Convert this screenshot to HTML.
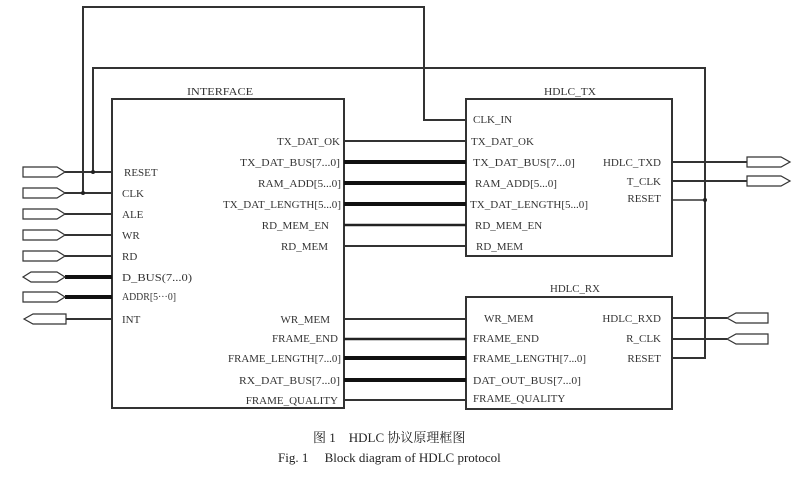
<!DOCTYPE html>
<html><head><meta charset="utf-8"><style>
html,body{margin:0;padding:0;background:#fff;width:802px;height:479px;overflow:hidden}
svg text{font-family:"Liberation Serif","Noto Serif CJK SC",serif;font-size:11px;fill:#333}
</style></head><body>
<svg width="802" height="479" viewBox="0 0 802 479" xmlns="http://www.w3.org/2000/svg">
<g fill="none" stroke="#333" stroke-width="2">
<!-- boxes -->
<rect x="112" y="99" width="232" height="309"/>
<rect x="466" y="99" width="206" height="157"/>
<rect x="466" y="297" width="206" height="112"/>
<!-- top wires -->
<polyline points="83,193 83,7 424,7 424,120 466,120"/>
<polyline points="93,172 93,68 705,68 705,358 672,358"/>
<line x1="672" y1="200" x2="705" y2="200" stroke-width="1.5"/>
<!-- left inputs -->
<line x1="65" y1="172" x2="112" y2="172"/>
<line x1="65" y1="193" x2="112" y2="193"/>
<line x1="65" y1="214" x2="112" y2="214"/>
<line x1="65" y1="235" x2="112" y2="235"/>
<line x1="65" y1="256" x2="112" y2="256"/>
<line x1="65" y1="277" x2="112" y2="277" stroke-width="4" stroke="#111"/>
<line x1="65" y1="297" x2="112" y2="297" stroke-width="4" stroke="#111"/>
<line x1="66" y1="319" x2="112" y2="319"/>
<!-- middle -->
<line x1="344" y1="141" x2="466" y2="141"/>
<line x1="344" y1="162" x2="466" y2="162" stroke-width="4" stroke="#111"/>
<line x1="344" y1="183" x2="466" y2="183" stroke-width="4" stroke="#111"/>
<line x1="344" y1="204" x2="466" y2="204" stroke-width="4" stroke="#111"/>
<line x1="344" y1="225" x2="466" y2="225" stroke-width="2.5" stroke="#222"/>
<line x1="344" y1="246" x2="466" y2="246"/>
<line x1="344" y1="319" x2="466" y2="319"/>
<line x1="344" y1="339" x2="466" y2="339" stroke-width="2.5" stroke="#222"/>
<line x1="344" y1="358" x2="466" y2="358" stroke-width="4" stroke="#111"/>
<line x1="344" y1="380" x2="466" y2="380" stroke-width="4" stroke="#111"/>
<line x1="344" y1="400" x2="466" y2="400"/>
<!-- right -->
<line x1="672" y1="162" x2="747" y2="162"/>
<line x1="672" y1="181" x2="747" y2="181"/>
<line x1="672" y1="318" x2="727" y2="318"/>
<line x1="672" y1="339" x2="727" y2="339"/>
</g>
<circle cx="93" cy="172" r="2" fill="#222"/>
<circle cx="83" cy="193" r="2" fill="#222"/>
<circle cx="705" cy="200" r="2" fill="#222"/>
<!-- port shapes -->
<g fill="#fff" stroke="#333" stroke-width="1.2">
<polygon points="23,167 57,167 65,172 57,177 23,177"/>
<polygon points="23,188 57,188 65,193 57,198 23,198"/>
<polygon points="23,209 57,209 65,214 57,219 23,219"/>
<polygon points="23,230 57,230 65,235 57,240 23,240"/>
<polygon points="23,251 57,251 65,256 57,261 23,261"/>
<polygon points="23,277 31,272 57,272 65,277 57,282 31,282"/>
<polygon points="23,292 57,292 65,297 57,302 23,302"/>
<polygon points="24,319 33,314 66,314 66,324 33,324"/>
<polygon points="747,157 781,157 790,162 781,167 747,167"/>
<polygon points="747,176 781,176 790,181 781,186 747,186"/>
<polygon points="727,318 736,313 768,313 768,323 736,323"/>
<polygon points="727,339 736,334 768,334 768,344 736,344"/>
</g>
<!-- titles -->
<text x="187" y="95" textLength="66" lengthAdjust="spacingAndGlyphs">INTERFACE</text>
<text x="544" y="95" textLength="52" lengthAdjust="spacingAndGlyphs">HDLC_TX</text>
<text x="550" y="292" textLength="50" lengthAdjust="spacingAndGlyphs">HDLC_RX</text>
<!-- interface left -->
<text x="124" y="176">RESET</text>
<text x="122" y="197">CLK</text>
<text x="122" y="218">ALE</text>
<text x="122" y="239">WR</text>
<text x="122" y="260">RD</text>
<text x="122" y="281" textLength="70" lengthAdjust="spacingAndGlyphs">D_BUS(7...0)</text>
<text x="122" y="300" textLength="54" lengthAdjust="spacingAndGlyphs">ADDR[5···0]</text>
<text x="122" y="323">INT</text>
<!-- interface right -->
<g text-anchor="end">
<text x="340" y="145">TX_DAT_OK</text>
<text x="340" y="166" textLength="100" lengthAdjust="spacingAndGlyphs">TX_DAT_BUS[7...0]</text>
<text x="341" y="187" textLength="83" lengthAdjust="spacingAndGlyphs">RAM_ADD[5...0]</text>
<text x="341" y="208" textLength="118" lengthAdjust="spacingAndGlyphs">TX_DAT_LENGTH[5...0]</text>
<text x="329" y="229">RD_MEM_EN</text>
<text x="328" y="250">RD_MEM</text>
<text x="330" y="323">WR_MEM</text>
<text x="338" y="342">FRAME_END</text>
<text x="341" y="362" textLength="113" lengthAdjust="spacingAndGlyphs">FRAME_LENGTH[7...0]</text>
<text x="340" y="384" textLength="101" lengthAdjust="spacingAndGlyphs">RX_DAT_BUS[7...0]</text>
<text x="338" y="404">FRAME_QUALITY</text>
<text x="661" y="166">HDLC_TXD</text>
<text x="661" y="185">T_CLK</text>
<text x="661" y="202">RESET</text>
<text x="661" y="322">HDLC_RXD</text>
<text x="661" y="342">R_CLK</text>
<text x="661" y="362">RESET</text>
</g>
<!-- TX left -->
<text x="473" y="123">CLK_IN</text>
<text x="471" y="145">TX_DAT_OK</text>
<text x="473" y="166" textLength="102" lengthAdjust="spacingAndGlyphs">TX_DAT_BUS[7...0]</text>
<text x="475" y="187" textLength="82" lengthAdjust="spacingAndGlyphs">RAM_ADD[5...0]</text>
<text x="470" y="208" textLength="118" lengthAdjust="spacingAndGlyphs">TX_DAT_LENGTH[5...0]</text>
<text x="475" y="229">RD_MEM_EN</text>
<text x="476" y="250">RD_MEM</text>
<!-- RX left -->
<text x="484" y="322">WR_MEM</text>
<text x="473" y="342">FRAME_END</text>
<text x="473" y="362" textLength="113" lengthAdjust="spacingAndGlyphs">FRAME_LENGTH[7...0]</text>
<text x="473" y="384" textLength="108" lengthAdjust="spacingAndGlyphs">DAT_OUT_BUS[7...0]</text>
<text x="473" y="402">FRAME_QUALITY</text>
<!-- caption -->
<text x="313" y="442" style="font-size:13px;fill:#222">图 1　HDLC 协议原理框图</text>
<text x="278" y="462" style="font-size:13px;fill:#222">Fig. 1　 Block diagram of HDLC protocol</text>
</svg>
</body></html>
